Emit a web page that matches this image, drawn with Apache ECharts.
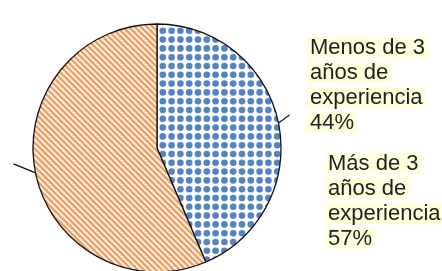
<!DOCTYPE html>
<html>
<head>
<meta charset="utf-8">
<script src="https://cdn.jsdelivr.net/npm/echarts@6/dist/echarts.min.js"></script>
<style>
  html, body { margin: 0; padding: 0; background: #fff; }
  #chart { width: 442px; height: 271px; }
</style>
</head>
<body>
<div id="chart"></div>
<script>
// data
var categories = ['Menos de 3\naños de\nexperiencia', 'Más de 3\naños de\nexperiencia'];
var values = [44, 57];

// fill patterns (blue dotted grid, orange diagonal stripes)
function dotTile() {
  var c = document.createElement('canvas');
  c.width = 44; c.height = 44;
  var ctx = c.getContext('2d');
  ctx.fillStyle = '#fff';
  ctx.fillRect(0, 0, 44, 44);
  ctx.fillStyle = '#5383c2';
  for (var i = 0; i < 5; i++) {
    for (var j = 0; j < 5; j++) {
      ctx.beginPath();
      ctx.arc(i * 8.8 + 4.4, j * 8.8 + 4.4, 3.3, 0, Math.PI * 2);
      ctx.fill();
    }
  }
  return c;
}

function stripeTile() {
  var c = document.createElement('canvas');
  c.width = 6; c.height = 6;
  var ctx = c.getContext('2d');
  ctx.fillStyle = '#fdf3ea';
  ctx.fillRect(0, 0, 6, 6);
  ctx.strokeStyle = '#eda266';
  ctx.lineWidth = 2.4;
  [-6, 0, 6].forEach(function (k) {
    ctx.beginPath();
    ctx.moveTo(k - 1, -1);
    ctx.lineTo(k + 7, 7);
    ctx.stroke();
  });
  return c;
}

var fills = [dotTile(), stripeTile()];
// where each label box sits (top-left) and where its leader line points
var labelPos = [[307, 35], [325, 151]];
var leader = [[11, -8], [-22, -9]];

var myChart = echarts.init(document.getElementById('chart'));

var option = {
  animation: false,
  series: [
    {
      type: 'pie',
      center: [157, 148],
      radius: 124,
      startAngle: 90,
      clockwise: true,
      avoidLabelOverlap: false,
      silent: true,
      data: categories.map(function (name, i) {
        return {
          name: name,
          value: values[i],
          itemStyle: { color: { image: fills[i], repeat: 'repeat' } }
        };
      }),
      itemStyle: {
        borderColor: '#111',
        borderWidth: 1.3
      },
      label: {
        show: true,
        position: 'outside',
        color: '#1e1e1e',
        fontFamily: 'Liberation Sans',
        fontSize: 22,
        formatter: function (p) {
          var lines = p.name.split('\n');
          lines.push(p.value + '%');
          return lines.map(function (l) { return '{h|' + l + '}{s|}'; }).join('\n');
        },
        rich: {
          h: {
            fontFamily: 'Liberation Sans',
            fontSize: 22,
            color: '#1e1e1e',
            backgroundColor: '#ffffdc',
            padding: [0, 3, 0, 3],
            height: 21,
            verticalAlign: 'middle'
          },
          s: {
            lineHeight: 25,
            width: 0
          }
        }
      },
      labelLine: {
        show: true,
        length: 10,
        length2: 0,
        lineStyle: { color: '#111', width: 1.2 }
      },
      labelLayout: function (params) {
        var i = params.dataIndex;
        var res = {
          x: labelPos[i][0],
          y: labelPos[i][1],
          align: 'left',
          verticalAlign: 'top'
        };
        var pts = params.labelLinePoints;
        if (pts && pts.length) {
          var p0 = pts[0];
          res.labelLinePoints = [p0, [p0[0] + leader[i][0], p0[1] + leader[i][1]]];
        }
        return res;
      }
    }
  ]
};

myChart.setOption(option);
</script>
</body>
</html>
